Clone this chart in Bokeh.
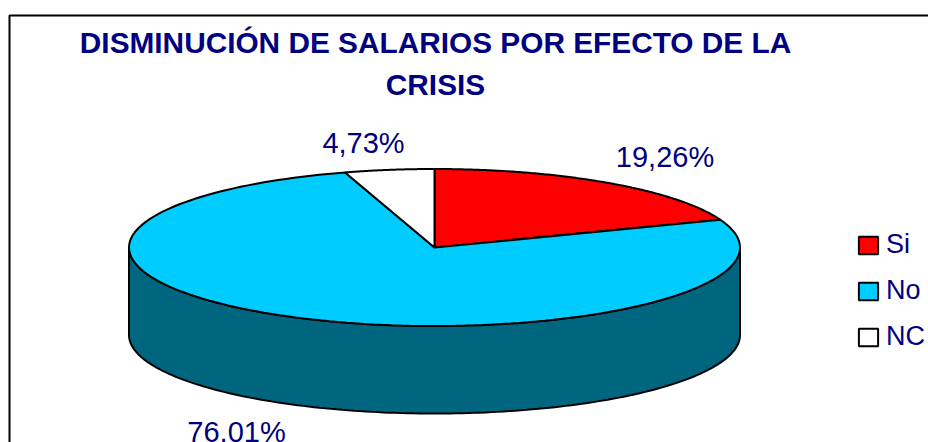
import numpy as np
from bokeh.plotting import figure
from bokeh.models import Range1d, Legend, LegendItem
from bokeh.core.properties import value
from bokeh.embed import file_html
from bokeh.resources import INLINE

title_lines = ["DISMINUCIÓN DE SALARIOS POR EFECTO DE LA", "CRISIS"]
categories = ["Si", "No", "NC"]
shares = [19.26, 76.01, 4.73]
share_labels = ["19,26%", "76,01%", "4,73%"]
colors = ["#FF0000", "#00CCFF", "#FFFFFF"]
wall_color = "#006680"
ink = "#000080"

W, H = 928, 442
CX, CY, RX, RY, DEPTH = 434.0, 247.0, 305.5, 78.5, 87.5

p = figure(width=W, height=H, output_backend="svg", toolbar_location=None,
           x_range=Range1d(0, W), y_range=Range1d(H, 0),
           x_axis_type=None, y_axis_type=None, min_border=0,
           background_fill_color="white", border_fill_color="white")
p.grid.visible = False
p.outline_line_color = None

def rim(a0, a1, dy=0.0):
    t = np.radians(np.linspace(a0, a1, 160))
    return CX + RX * np.sin(t), CY + dy - RY * np.cos(t)

# frame
p.line([9, 9, W + 20], [H + 20, 15, 15], line_color="black", line_width=2)

# wall
tx, ty = rim(90, 270)
bx, by = rim(270, 90, DEPTH)
p.patch(list(tx) + list(bx), list(ty) + list(by), fill_color=wall_color,
        line_color="black", line_width=2)

# top face
renderers = []
start = 0.0
for cat, share, col in zip(categories, shares, colors):
    end = start + share * 3.6
    rx_, ry_ = rim(start, end)
    r = p.patch([CX] + list(rx_), [CY] + list(ry_), fill_color=col,
                line_color="black", line_width=2)
    renderers.append(r)
    start = end

# slice labels
lab_x = [664.5, 236, 363]
lab_y = [156, 431, 142]
p.text(lab_x, lab_y, text=share_labels, text_align="center", text_baseline="middle",
       text_color=ink, text_font=value("Liberation Sans"), text_font_size="29px")

# title
p.text([435, 435], [42, 84], text=title_lines,
       text_align="center", text_baseline="middle", text_color=ink,
       text_font=value("Liberation Sans"), text_font_style="bold", text_font_size="29.8px")

legend = Legend(items=[LegendItem(label=c, renderers=[r]) for c, r in zip(categories, renderers)],
                location=(856, 90), orientation="vertical",
                background_fill_alpha=0, border_line_color=None, margin=0, padding=5,
                glyph_width=24, glyph_height=22, spacing=15, label_standoff=6,
                label_text_font="Liberation Sans", label_text_font_size="27px",
                label_text_color=ink, label_height=30)
p.add_layout(legend, "center")

open("out.html", "w").write(file_html(p, INLINE))
